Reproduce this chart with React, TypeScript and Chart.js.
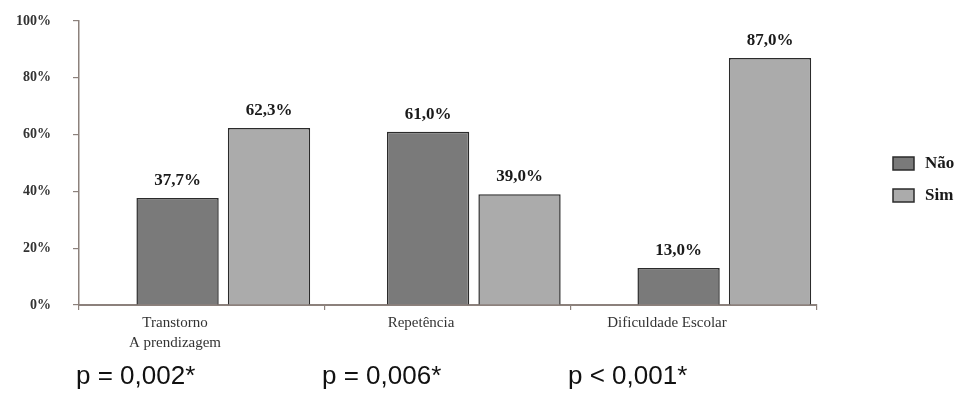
import React, { useEffect, useRef } from "react";
import { Chart, registerables } from "chart.js";

Chart.register(...registerables);

const categories: (string | string[])[] = [["Transtorno", "A prendizagem"], "Repetência", "Dificuldade Escolar"];
const seriesNames = ["Não", "Sim"];
const naoValues = [37.7, 61.0, 13.0];
const simValues = [62.3, 39.0, 87.0];
const pValues = ["p = 0,002*", "p = 0,006*", "p < 0,001*"];
const yTicks = [0, 20, 40, 60, 80, 100];
const groupPositions = [1, 2, 3];

const SERIF = "'Liberation Serif', 'DejaVu Serif', serif";
const SANS = "'Liberation Sans', Arial, sans-serif";
const AXIS = "#8c817c";
const COLORS = ["#7a7a7a", "#ababab"];
const BORDER = "#2b2b2b";

const fmt = (v: number) => v.toFixed(1).replace(".", ",") + "%";

const overlayPlugin = {
  id: "overlay",
  afterDatasetsDraw(chart: any) {
    const ctx = chart.ctx;
    ctx.save();
    // value labels
    ctx.fillStyle = "#1a1a1a";
    ctx.font = `bold 17px ${SERIF}`;
    ctx.textAlign = "center";
    ctx.textBaseline = "bottom";
    chart.data.datasets.forEach((ds: any, di: number) => {
      const meta = chart.getDatasetMeta(di);
      meta.data.forEach((el: any, i: number) => {
        const v = ds.data[i].y;
        ctx.fillText(fmt(v), el.x, el.y - 9);
      });
    });
    // legend
    ctx.textAlign = "left";
    ctx.textBaseline = "middle";
    ctx.font = `bold 17px ${SERIF}`;
    seriesNames.forEach((name, i) => {
      const bx = 885;
      const by = 149 + i * 32;
      ctx.fillStyle = COLORS[i];
      ctx.fillRect(bx, by, 21, 13);
      ctx.strokeStyle = BORDER;
      ctx.lineWidth = 1.5;
      ctx.strokeRect(bx, by, 21, 13);
      ctx.fillStyle = "#1a1a1a";
      ctx.fillText(name, bx + 32, by + 7);
    });
    // p-values
    const xs = chart.scales.x;
    const cw = (xs.right - xs.left) / categories.length;
    ctx.font = `26px ${SANS}`;
    ctx.fillStyle = "#111";
    ctx.textBaseline = "alphabetic";
    pValues.forEach((p, i) => {
      ctx.fillText(p, xs.left + i * cw - 3, 376);
    });
    ctx.restore();
  },
};

export default function App() {
  const ref = useRef<HTMLCanvasElement>(null);
  useEffect(() => {
    if (!ref.current) return;
    const chart = new Chart(ref.current, {
      type: "bar",
      data: {
        labels: categories as any,
        datasets: [naoValues, simValues].map((vals, si) => ({
          label: seriesNames[si],
          data: vals.map((v, i) => ({ x: groupPositions[i], y: v })),
          xAxisID: "xb",
          yAxisID: "y",
          backgroundColor: COLORS[si],
          borderColor: BORDER,
          borderWidth: 1.5,
          barPercentage: 0.9,
          categoryPercentage: 0.73,
        })) as any,
      },
      options: {
        responsive: false,
        animation: false,
        layout: { autoPadding: false, padding: { top: 13, right: 137, left: 0, bottom: 0 } },
        plugins: { legend: { display: false }, tooltip: { enabled: false } },
        scales: {
          xb: {
            type: "linear",
            display: false,
            min: 0.424,
            max: 3.37,
            offset: false,
            bounds: "data",
            grid: { offset: false },
            afterBuildTicks: (s: any) => {
              s.ticks = groupPositions.map((v) => ({ value: v }));
            },
          },
          x: {
            type: "category",
            position: "bottom",
            offset: true,
            grid: { offset: true, drawOnChartArea: false, drawTicks: true, tickLength: 5, color: AXIS, lineWidth: 1.2 },
            border: { color: AXIS, width: 2 },
            ticks: {
              labelOffset: -27,
              padding: 3,
              autoSkip: false,
              maxRotation: 0,
              color: "#333",
              font: { family: SERIF, size: 15, lineHeight: 1.33 },
            },
            afterFit: (s: any) => {
              s.height = 93;
              s.paddingLeft = 0;
              s.paddingRight = 0;
            },
          },
          y: {
            type: "linear",
            position: "left",
            min: 0,
            max: 100,
            afterBuildTicks: (s: any) => {
              s.ticks = yTicks.map((v) => ({ value: v }));
            },
            grid: { drawOnChartArea: false, drawTicks: true, tickLength: 6, color: AXIS, lineWidth: 1.2 },
            border: { color: AXIS, width: 1.5 },
            ticks: {
              padding: 22,
              color: "#333",
              font: { family: SERIF, size: 14, weight: "bold" },
              callback: (v: any) => v + "%",
            },
            afterFit: (s: any) => {
              s.width = 71;
              s.paddingTop = 0;
              s.paddingBottom = 0;
            },
          },
        },
      } as any,
      plugins: [overlayPlugin],
    });
    return () => chart.destroy();
  }, []);
  return <canvas ref={ref} width={946} height={390} />;
}
